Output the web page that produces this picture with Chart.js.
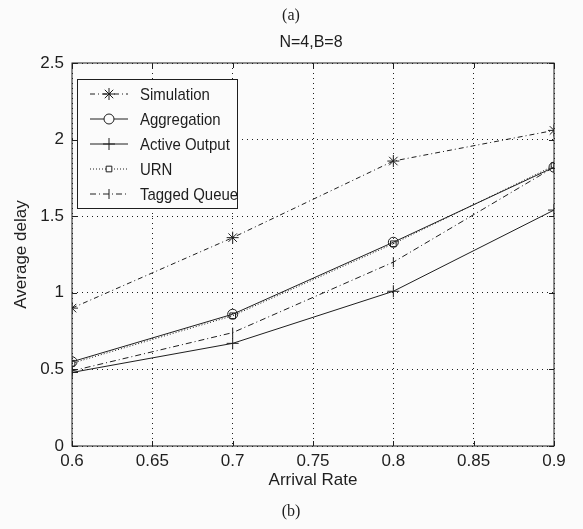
<!DOCTYPE html>
<html>
<head>
<meta charset="utf-8">
<script src="https://cdn.jsdelivr.net/npm/chart.js@4"></script>
<style>
  html, body { margin: 0; padding: 0; background: #fbfbfb; }
  #wrap { width: 583px; height: 529px; position: relative; }
</style>
</head>
<body>
<div id="wrap"><canvas id="grafico" width="583" height="529"></canvas></div>
<script>
const rates = [0.6, 0.7, 0.8, 0.9];
const simulation = [0.90, 1.36, 1.86, 2.06];
const aggregation = [0.55, 0.86, 1.33, 1.82];
const activeOutput = [0.48, 0.67, 1.01, 1.54];
const urn = [0.54, 0.85, 1.32, 1.83];
const taggedQueue = [0.49, 0.74, 1.20, 1.82];
const xTicks = [0.6, 0.65, 0.7, 0.75, 0.8, 0.85, 0.9];
const yTicks = [0, 0.5, 1, 1.5, 2, 2.5];

const ink = "#1e1e1e";
const fundo = "#fbfbfb";
const sans = "'Liberation Sans', Arial, sans-serif";
const serif = "'Liberation Serif', 'Times New Roman', serif";

function serie(label, valores, dash, ponto, raio, rot) {
    return {
        label: label,
        data: rates.map((r, i) => ({ x: r, y: valores[i] })),
        borderColor: ink,
        borderWidth: 1,
        borderDash: dash,
        pointStyle: ponto,
        pointRadius: raio,
        pointRotation: rot || 0,
        pointBorderColor: ink,
        pointBorderWidth: 1,
        pointBackgroundColor: "rgba(0,0,0,0)",
        fill: false,
        tension: 0
    };
}

const datasets = [
    serie("Simulation", simulation, [5, 3, 1, 3], "star", 6),
    serie("Aggregation", aggregation, [], "circle", 5),
    serie("Active Output", activeOutput, [], "cross", 6),
    serie("URN", urn, [1, 2], "rect", 4),
    serie("Tagged Queue", taggedQueue, [6, 3, 1, 3], "line", 5, 90)
];

// moldura, marcas internas, textos extras e legenda dentro do grafico
const extras = {
    id: "extras",
    afterDatasetsDraw(chart) {
        const ctx = chart.ctx;
        const a = chart.chartArea;
        const sx = chart.scales.x, sy = chart.scales.y;
        ctx.save();
        ctx.strokeStyle = ink;
        ctx.lineWidth = 1;
        ctx.setLineDash([]);
        ctx.strokeRect(a.left, a.top, a.right - a.left, a.bottom - a.top);
        ctx.beginPath();
        xTicks.forEach(v => {
            const px = Math.round(sx.getPixelForValue(v)) + 0.5;
            ctx.moveTo(px, a.bottom); ctx.lineTo(px, a.bottom - 5);
            ctx.moveTo(px, a.top); ctx.lineTo(px, a.top + 5);
        });
        yTicks.forEach(v => {
            const py = Math.round(sy.getPixelForValue(v)) + 0.5;
            ctx.moveTo(a.left, py); ctx.lineTo(a.left + 5, py);
            ctx.moveTo(a.right, py); ctx.lineTo(a.right - 5, py);
        });
        ctx.stroke();

        // legenda
        const lx = 77, ly = 79, lw = 160, lh = 129;
        ctx.fillStyle = fundo;
        ctx.fillRect(lx, ly, lw, lh);
        ctx.strokeRect(lx + 0.5, ly + 0.5, lw, lh);
        ctx.textBaseline = "middle";
        ctx.textAlign = "left";
        datasets.forEach((ds, i) => {
            const y = 94 + i * 25;
            ctx.beginPath();
            ctx.setLineDash(ds.borderDash);
            ctx.moveTo(90, y); ctx.lineTo(128, y);
            ctx.stroke();
            ctx.setLineDash([]);
            ctx.fillStyle = fundo;
            Chart.helpers.drawPoint(ctx, {
                pointStyle: ds.pointStyle,
                radius: ds.pointRadius,
                rotation: ds.pointRotation,
                borderWidth: 1
            }, 109, y);
            ctx.fillStyle = ink;
            ctx.save();
            ctx.translate(140, y + 1);
            ctx.scale(0.88, 1);
            ctx.font = "17px " + sans;
            ctx.fillText(ds.label, 0, 0);
            ctx.restore();
        });

        // textos de cima e de baixo
        ctx.fillStyle = ink;
        ctx.textAlign = "center";
        ctx.font = "16px " + serif;
        ctx.fillText("(a)", 291, 16);
        ctx.fillText("(b)", 291, 512);
        ctx.font = "16px " + sans;
        ctx.fillText("N=4,B=8", 311, 43);
        ctx.restore();
    }
};

new Chart(document.getElementById("grafico"), {
    type: "line",
    data: { datasets: datasets },
    plugins: [extras],
    options: {
        responsive: false,
        animation: false,
        layout: { padding: { top: 63, right: 29, bottom: 38, left: 0 } },
        plugins: { legend: { display: false }, tooltip: { enabled: false } },
        scales: {
            x: {
                type: "linear",
                min: 0.6,
                max: 0.9,
                afterBuildTicks(s) { s.ticks = xTicks.map(v => ({ value: v })); },
                afterFit(s) { s.height = 45; },
                ticks: {
                    color: ink,
                    font: { family: sans, size: 17 },
                    padding: 5,
                    maxRotation: 0,
                    callback: v => String(v)
                },
                grid: { color: ink, lineWidth: 1, drawTicks: false },
                border: { display: false, dash: [1, 4] },
                title: {
                    display: true,
                    text: "Arrival Rate",
                    color: ink,
                    font: { family: sans, size: 17 },
                    padding: { top: -6, bottom: 0 }
                }
            },
            y: {
                min: 0,
                max: 2.5,
                afterBuildTicks(s) { s.ticks = yTicks.map(v => ({ value: v })); },
                afterFit(s) { s.width = 72; },
                ticks: {
                    color: ink,
                    font: { family: sans, size: 17 },
                    padding: 8,
                    callback: v => String(v)
                },
                grid: { color: ink, lineWidth: 1, drawTicks: false },
                border: { display: false, dash: [1, 4] },
                title: {
                    display: true,
                    text: "Average delay",
                    color: ink,
                    font: { family: sans, size: 17 },
                    padding: { top: 11, bottom: 0 }
                }
            }
        }
    }
});
</script>
</body>
</html>
